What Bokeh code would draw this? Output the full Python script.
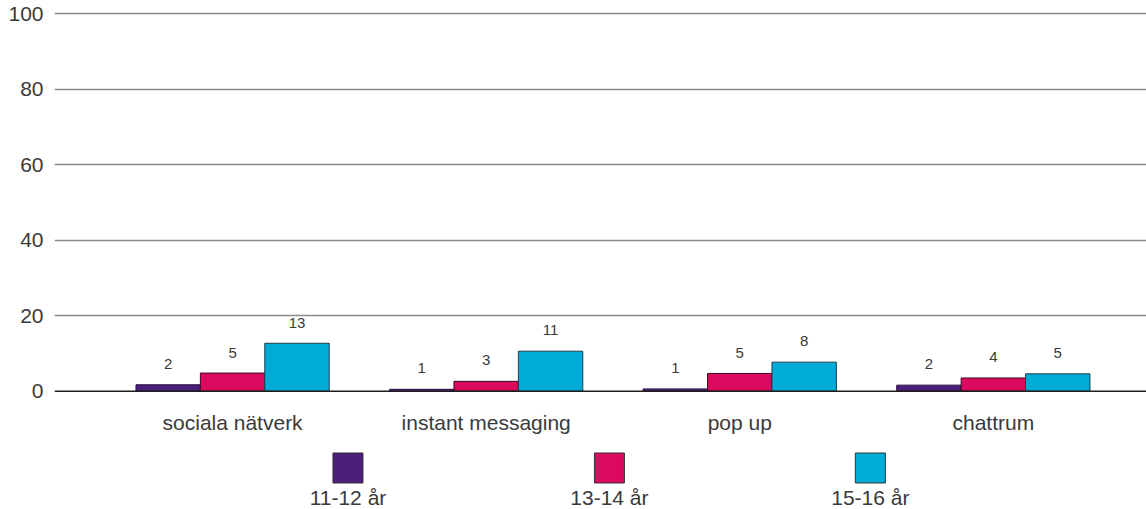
from bokeh.plotting import figure
from bokeh.models import Range1d, FixedTicker, Span, ColumnDataSource
from bokeh.transform import dodge
from bokeh.core.properties import value
from bokeh.embed import file_html
from bokeh.resources import INLINE

# ---- data ----
categories = ["sociala nätverk", "instant messaging", "pop up", "chattrum"]
groups = ["11-12 år", "13-14 år", "15-16 år"]
values_11_12 = [1.7, 0.5, 0.6, 1.6]
values_13_14 = [4.8, 2.6, 4.7, 3.5]
values_15_16 = [12.7, 10.6, 7.7, 4.6]
labels_11_12 = [2, 1, 1, 2]
labels_13_14 = [5, 3, 5, 4]
labels_15_16 = [13, 11, 8, 5]
y_ticks = [0, 20, 40, 60, 80, 100]

# ---- styles / layout ----
colors = ["#4c1f7b", "#dc0a5e", "#00acd7"]
outline = ["#2a1040", "#3a0a1e", "#1f3d4a"]
FONT = "Liberation Sans"
TEXT_COLOR = "#3a3a3a"
BAR_W = 0.254
OFFSETS = [-0.254, 0.0, 0.254]
LEGEND_X = [0.955, 1.986, 3.015]
LEGEND_Y = -20.35

cat_x = [i + 0.5 for i in range(len(categories))]
series_vals = [values_11_12, values_13_14, values_15_16]
series_labels = [labels_11_12, labels_13_14, labels_15_16]

p = figure(width=1146, height=509, output_backend="svg", toolbar_location=None,
           x_range=Range1d(-0.2023, 4.104), y_range=Range1d(-31.35, 103.52),
           x_axis_location=None, min_border_left=54, min_border_right=0,
           min_border_top=0, min_border_bottom=0)
p.outline_line_color = None
p.xgrid.visible = False
p.ygrid.ticker = FixedTicker(ticks=[t for t in y_ticks if t != 0])
p.ygrid.grid_line_color = "#8a8a8a"
p.ygrid.grid_line_width = 1.5
p.yaxis.ticker = FixedTicker(ticks=y_ticks)
p.yaxis.axis_line_color = None
p.yaxis.major_tick_line_color = None
p.yaxis.minor_tick_line_color = None
p.yaxis.major_tick_out = 0
p.yaxis.major_tick_in = 0
p.yaxis.major_label_standoff = 11
p.yaxis.major_label_text_font = FONT
p.yaxis.major_label_text_font_size = "21px"
p.yaxis.major_label_text_color = TEXT_COLOR

zero = Span(location=0, dimension="width", line_color="#1e1e1e", line_width=1.5)
p.add_layout(zero)

for i in range(3):
    src = ColumnDataSource(dict(
        x=cat_x,
        top=series_vals[i],
        lab=series_labels[i],
        lab_str=[str(v) for v in series_labels[i]],
    ))
    p.vbar(x=dodge("x", OFFSETS[i]), top="top", bottom=0, width=BAR_W, source=src,
           fill_color=colors[i], line_color=outline[i], line_width=1)
    p.text(x=dodge("x", OFFSETS[i]), y="lab", text="lab_str", source=src,
           y_offset=-19.5, text_align="center", text_baseline="middle",
           text_font=value(FONT), text_font_size="15px", text_color=TEXT_COLOR)

# category labels
p.text(x=cat_x, y=[0] * len(categories), text=categories, y_offset=31,
       text_align="center", text_baseline="middle",
       text_font=value(FONT), text_font_size="21px", text_color=TEXT_COLOR)

# legend
p.scatter(x=LEGEND_X, y=[LEGEND_Y] * 3, marker="square", size=30,
          fill_color=colors, line_color="#333333", line_width=1)
p.text(x=LEGEND_X, y=[LEGEND_Y] * 3, text=groups, y_offset=30,
       text_align="center", text_baseline="middle",
       text_font=value(FONT), text_font_size="21px", text_color=TEXT_COLOR)

open("out.html", "w").write(file_html(p, INLINE))
